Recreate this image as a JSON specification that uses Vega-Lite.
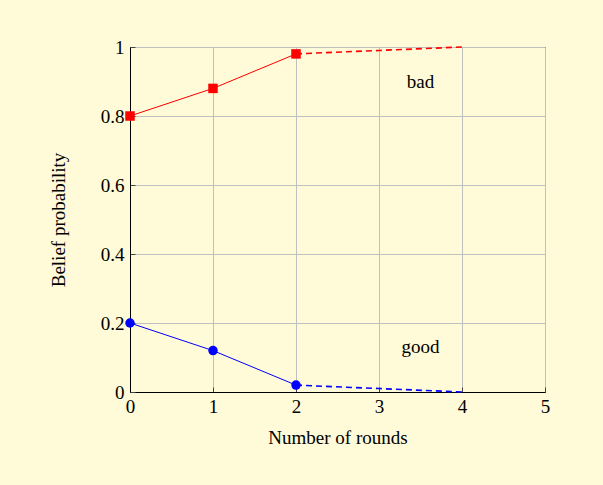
{
  "$schema": "https://vega.github.io/schema/vega-lite/v6.json",
  "width": 415,
  "height": 345,
  "autosize": {"type": "none"},
  "padding": {"left": 130, "top": 47, "right": 58, "bottom": 93},
  "background": "#fffad7",
  "config": {
    "font": "Liberation Serif",
    "view": {"stroke": "black", "strokeWidth": 1},
    "axis": {
      "labelFont": "Liberation Serif",
      "titleFont": "Liberation Serif",
      "labelFontSize": 19,
      "titleFontSize": 19,
      "titleFontWeight": "normal",
      "labelColor": "black",
      "titleColor": "black",
      "domainColor": "black",
      "tickColor": "#444444",
      "gridColor": "#c0c0c0",
      "gridOpacity": 1,
      "tickSize": -5
    }
  },
  "datasets": {
    "series": [
      {"series": "bad", "round": 0, "p": 0.8, "part": "observed"},
      {"series": "bad", "round": 1, "p": 0.88, "part": "observed"},
      {"series": "bad", "round": 2, "p": 0.98, "part": "observed"},
      {"series": "bad", "round": 2, "p": 0.98, "part": "projected"},
      {"series": "bad", "round": 3, "p": 0.99, "part": "projected"},
      {"series": "bad", "round": 4, "p": 1.0, "part": "projected"},
      {"series": "good", "round": 0, "p": 0.2, "part": "observed"},
      {"series": "good", "round": 1, "p": 0.12, "part": "observed"},
      {"series": "good", "round": 2, "p": 0.02, "part": "observed"},
      {"series": "good", "round": 2, "p": 0.02, "part": "projected"},
      {"series": "good", "round": 3, "p": 0.01, "part": "projected"},
      {"series": "good", "round": 4, "p": 0.0, "part": "projected"}
    ],
    "labels": [
      {"label": "bad", "round": 3.5, "p": 0.9},
      {"label": "good", "round": 3.5, "p": 0.13}
    ]
  },
  "layer": [
    {
      "data": {"name": "series"},
      "transform": [{"filter": "datum.part === 'observed'"}],
      "mark": {"type": "line", "strokeWidth": 1, "clip": false},
      "encoding": {
        "x": {"field": "round", "type": "quantitative", "scale": {"domain": [0, 5], "nice": false},
              "axis": {"values": [0, 1, 2, 3, 4, 5], "format": "d", "labelAlign": "center", "title": "Number of rounds", "grid": true, "labelPadding": 10, "titlePadding": 12, "domain": true}},
        "y": {"field": "p", "type": "quantitative", "scale": {"domain": [0, 1], "nice": false},
              "axis": {"values": [0, 0.2, 0.4, 0.6, 0.8, 1], "title": "Belief probability", "grid": true, "labelPadding": 11, "titlePadding": 32, "labelAlign": "right", "labelExpr": "datum.value === 0 ? '0' : datum.value === 1 ? '1' : format(datum.value, '.1f')"}},
        "color": {"field": "series", "type": "nominal", "scale": {"domain": ["bad", "good"], "range": ["#ff0000", "#0000ff"]}, "legend": null},
        "detail": {"field": "series"}
      }
    },
    {
      "data": {"name": "series"},
      "transform": [{"filter": "datum.part === 'projected'"}],
      "mark": {"type": "line", "strokeWidth": 1.6, "strokeDash": [6, 4], "clip": false},
      "encoding": {
        "x": {"field": "round", "type": "quantitative"},
        "y": {"field": "p", "type": "quantitative"},
        "color": {"field": "series", "type": "nominal", "legend": null},
        "detail": {"field": "series"}
      }
    },
    {
      "data": {"name": "series"},
      "transform": [{"filter": "datum.part === 'observed'"}],
      "mark": {"type": "point", "filled": true, "opacity": 1, "size": 90, "clip": false, "strokeWidth": 1},
      "encoding": {
        "x": {"field": "round", "type": "quantitative"},
        "y": {"field": "p", "type": "quantitative"},
        "color": {"field": "series", "type": "nominal", "scale": {"domain": ["bad", "good"], "range": ["#dd0000", "#0000ee"]}, "legend": null},
        "shape": {"field": "series", "type": "nominal", "scale": {"domain": ["bad", "good"], "range": ["square", "circle"]}, "legend": null}
      }
    },
    {
      "data": {"name": "labels"},
      "mark": {"type": "text", "fontSize": 19, "font": "Liberation Serif", "color": "black"},
      "encoding": {
        "x": {"field": "round", "type": "quantitative"},
        "y": {"field": "p", "type": "quantitative"},
        "text": {"field": "label"}
      }
    }
  ]
}
